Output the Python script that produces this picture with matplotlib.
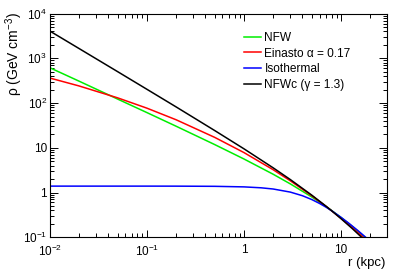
import numpy as np
import matplotlib
matplotlib.use("Agg")
import matplotlib.pyplot as plt
from matplotlib.ticker import FixedLocator, FixedFormatter, LogLocator, NullFormatter

plt.rcParams['font.family'] = ['Liberation Sans', 'DejaVu Sans']
plt.rcParams['mathtext.fontset'] = 'custom'
plt.rcParams['mathtext.rm'] = 'Liberation Sans'
plt.rcParams['mathtext.it'] = 'Liberation Sans:italic'

# density profiles, values (r in kpc, rho in GeV/cm^3)
r_prof = [0.01, 0.02, 0.05, 0.1, 0.2, 0.5, 1, 2, 3, 5, 7, 8, 10, 13, 16, 20, 30]
rho_nfw = [619, 310, 123, 61.4, 30.4, 11.8, 5.62, 2.56, 1.56, 0.794, 0.486,
           0.395, 0.276, 0.175, 0.120, 0.0775, 0.033]
rho_einasto = [364, 242, 131, 77.1, 42.4, 17.1, 7.82, 3.23, 1.83, 0.845, 0.489,
               0.39, 0.264, 0.164, 0.111, 0.0714, 0.0308]
rho_nfwc = [4100, 1665, 505, 204, 82.2, 24.3, 9.49, 3.56, 1.95, 0.871, 0.494,
            0.39, 0.259, 0.157, 0.103, 0.0646, 0.0261]

r_iso = [0.01, 0.1, 0.2, 0.5, 1, 1.5, 2, 3, 4, 5, 6, 7, 8, 10, 12, 15, 18, 20, 30]
rho_iso = [1.39, 1.39, 1.388, 1.376, 1.337, 1.275, 1.198, 1.022, 0.848, 0.695,
           0.57, 0.47, 0.391, 0.278, 0.206, 0.139, 0.099, 0.082, 0.0375]

labels = ['NFW', 'Einasto α = 0.17', 'Isothermal', 'NFWc (γ = 1.3)']
colors = ['#00ee00', '#ff0000', '#0000ff', '#000000']

xticks = [0.01, 0.1, 1, 10]
xticklabels = ['$10^{-2}$', '$10^{-1}$', '1', '10']
yticks = [0.1, 1, 10, 100, 1000, 10000]
yticklabels = ['$10^{-1}$', '1', '10', '$10^{2}$', '$10^{3}$', '$10^{4}$']

fig = plt.figure(figsize=(3.99, 2.73), dpi=100)
ax = fig.add_axes([0.1246, 0.131, 0.8457, 0.819])

ax.plot(r_prof, rho_nfw, color=colors[0], lw=1.1, label=labels[0])
ax.plot(r_prof, rho_einasto, color=colors[1], lw=1.1, label=labels[1])
ax.plot(r_iso, rho_iso, color=colors[2], lw=1.1, label=labels[2])
ax.plot(r_prof, rho_nfwc, color=colors[3], lw=1.1, label=labels[3])

ax.set_xscale('log')
ax.set_yscale('log')
ax.set_xlim(0.01, 29.8)
ax.set_ylim(0.1, 10000)

ax.xaxis.set_major_locator(FixedLocator(xticks))
ax.xaxis.set_major_formatter(FixedFormatter(xticklabels))
ax.yaxis.set_major_locator(FixedLocator(yticks))
ax.yaxis.set_major_formatter(FixedFormatter(yticklabels))
ax.xaxis.set_minor_locator(LogLocator(base=10, subs=np.arange(2, 10), numticks=20))
ax.yaxis.set_minor_locator(LogLocator(base=10, subs=np.arange(2, 10), numticks=20))
ax.xaxis.set_minor_formatter(NullFormatter())
ax.yaxis.set_minor_formatter(NullFormatter())

for s in ax.spines.values():
    s.set_linewidth(0.8)
ax.tick_params(axis='both', which='both', direction='in', top=True, right=True,
               width=0.7, labelsize=8.5)
ax.tick_params(axis='x', which='major', length=5, pad=5)
ax.tick_params(axis='x', which='minor', length=2.6)
ax.tick_params(axis='y', which='major', length=6, pad=2)
ax.tick_params(axis='y', which='minor', length=3)

fig.text(14 / 399, 1 - 12 / 273, 'ρ (GeV cm$^{-3}$)', rotation=90,
         ha='center', va='top', fontsize=10)
fig.text(385 / 399, 1 - 263 / 273, 'r (kpc)', ha='right', va='center', fontsize=9.5)

ax.legend(loc='upper left', bbox_to_anchor=(0.5745, 0.918), frameon=False,
          fontsize=8.6, handlelength=1.45, handletextpad=0.3, labelspacing=0.3,
          borderpad=0, borderaxespad=0)

fig.savefig('out.png', dpi=100)
